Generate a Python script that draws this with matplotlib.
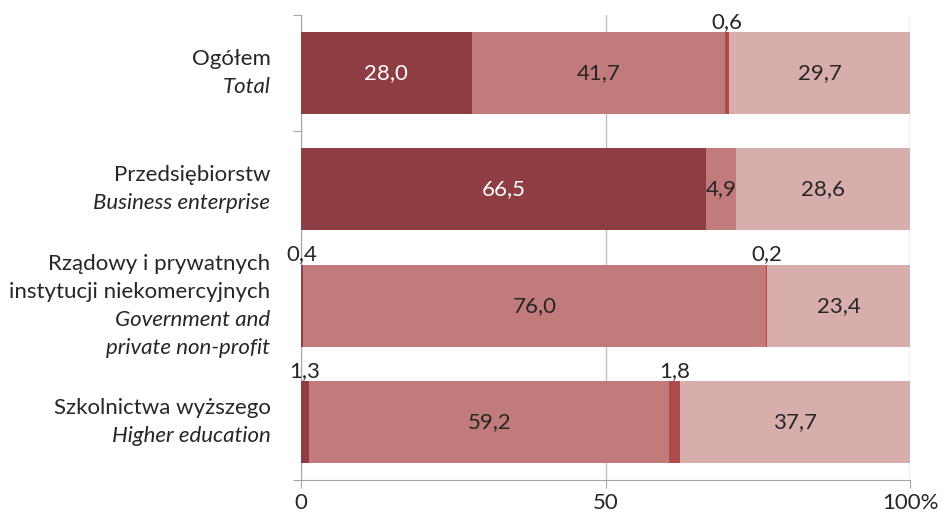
import matplotlib
matplotlib.use("Agg")
import matplotlib.pyplot as plt
import numpy as np

plt.rcParams['font.family'] = ['Lato', 'DejaVu Sans']

categories_pl = [["Ogółem"], ["Przedsiębiorstw"],
                 ["Rządowy i prywatnych", "instytucji niekomercyjnych"],
                 ["Szkolnictwa wyższego"]]
categories_en = [["Total"], ["Business enterprise"],
                 ["Government and", "private non-profit"],
                 ["Higher education"]]

s1 = [28.0, 66.5, 0.4, 1.3]
s2 = [41.7, 4.9, 76.0, 59.2]
s3 = [0.6, 0.0, 0.2, 1.8]
s4 = [29.7, 28.6, 23.4, 37.7]
series = [s1, s2, s3, s4]
colors = ["#8E3E42", "#C17B7A", "#AD4D4B", "#D7AEAC"]
label_colors = ["white", "#262626", "#262626", "#262626"]

xticks = [0, 50, 100]
xticklabels = ["0", "50", "100%"]

fs = 16
fig = plt.figure(figsize=(9.47, 5.14), dpi=100)
ax = fig.add_axes([301/947, 1-480/514, (910-301)/947, 465/514])

n = len(s1)
ypos = np.arange(n)
left = np.zeros(n)
bh = 0.707
txtc = "#262626"
for si, (vals, c) in enumerate(zip(series, colors)):
    vals = np.array(vals)
    ax.barh(ypos, vals, left=left, height=bh, color=c, zorder=3)
    for i, v in enumerate(vals):
        if v <= 0:
            continue
        cx = left[i] + v / 2
        lab = f"{v:.1f}".replace(".", ",")
        if v < 2:
            ax.text(cx, ypos[i] - bh / 2, lab, ha="center", va="bottom",
                    fontsize=fs, color=txtc, zorder=5)
        else:
            ax.text(cx, ypos[i], lab, ha="center", va="center",
                    fontsize=fs, color=label_colors[si], zorder=5)
    left = left + vals

ax.set_xlim(0, 100)
ax.set_ylim(n - 0.5, -0.5)
ax.set_xticks(xticks)
ax.set_xticklabels(xticklabels, fontsize=fs, color=txtc)
ax.tick_params(axis="x", length=6, color="#A6A6A6", pad=3.5)
ax.set_yticks([-0.5, 0.5, 3.5])
ax.set_yticklabels([])
ax.tick_params(axis="y", length=6, color="#A6A6A6")
ax.grid(axis="x", color="#BFBFBF", linewidth=1, zorder=0)
for s in ["top", "right"]:
    ax.spines[s].set_visible(False)
for s in ["left", "bottom"]:
    ax.spines[s].set_color("#A6A6A6")

line_pt = 20.2
for i in range(n):
    lines = [(t, "normal") for t in categories_pl[i]] + [(t, "italic") for t in categories_en[i]]
    k = len(lines)
    for j, (t, st) in enumerate(lines):
        off = ((k - 1) / 2 - j) * line_pt
        ax.annotate(t, xy=(0, ypos[i]), xycoords=("axes fraction", "data"),
                    xytext=(-22, off), textcoords="offset points",
                    ha="right", va="center", fontsize=fs, style=st, color=txtc)

fig.savefig("out.png", dpi=100)
